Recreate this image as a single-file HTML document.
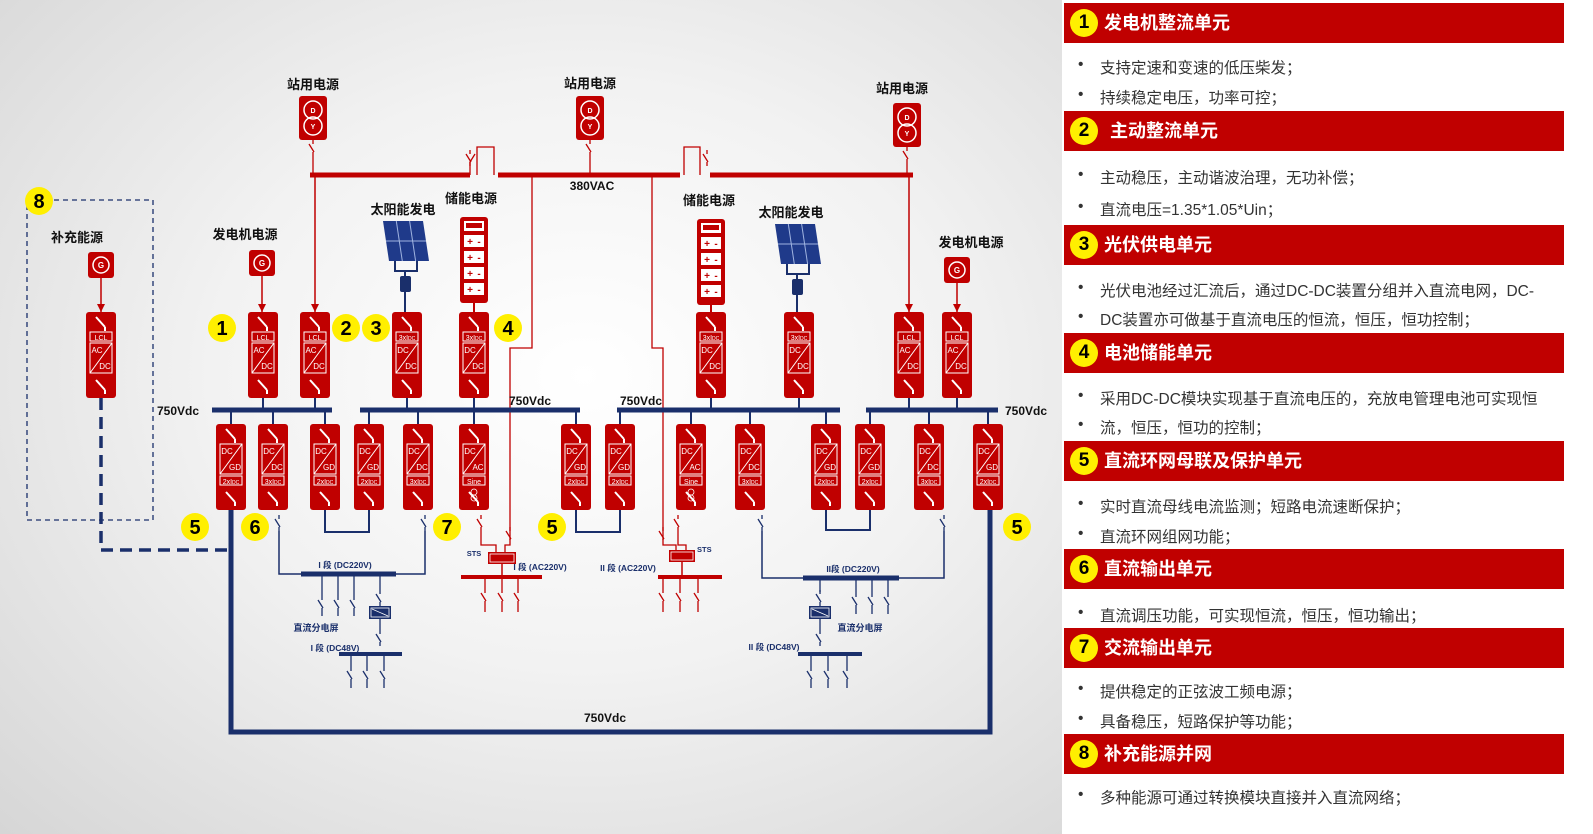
<!DOCTYPE html>
<html><head><meta charset="utf-8">
<style>
html,body{margin:0;padding:0;}
body{width:1593px;height:834px;position:relative;overflow:hidden;font-family:"Liberation Sans","Noto Sans CJK SC",sans-serif;background:#fff;}
#bg{position:absolute;left:0;top:0;width:1062px;height:834px;background:radial-gradient(ellipse at 55% 45%,#ffffff 0%,#f2f2f2 45%,#d6d6d6 100%);}
svg{position:absolute;left:0;top:0;}
.hd{position:absolute;left:1064px;width:500px;height:40px;background:#c00000;color:#fff;font-weight:bold;font-size:18px;line-height:40px;}
.hd .n{position:absolute;left:6px;top:6px;width:28px;height:28px;border-radius:50%;background:#ffef00;color:#000;text-align:center;line-height:28px;font-size:19px;}
.hd span.t{position:absolute;left:40px;}
.b{position:absolute;left:1078px;font-size:15.5px;color:#333;white-space:nowrap;}
.b:before{content:"•";position:absolute;left:0;}
.b span{position:absolute;left:22px;}
</style></head><body>
<div id="bg"></div>
<svg id="s" width="1062" height="834" font-family="Liberation Sans, Noto Sans CJK SC, sans-serif"></svg>

<div class="hd" style="top:3px"><div class="n">1</div><span class="t">发电机整流单元</span></div>
<div class="b" style="top:56px"><span>支持定速和变速的低压柴发；</span></div>
<div class="b" style="top:86px"><span>持续稳定电压，功率可控；</span></div>
<div class="hd" style="top:111px"><div class="n">2</div><span class="t" style="left:46px">主动整流单元</span></div>
<div class="b" style="top:166px"><span>主动稳压，主动谐波治理，无功补偿；</span></div>
<div class="b" style="top:198px"><span>直流电压=1.35*1.05*Uin；</span></div>
<div class="hd" style="top:225px"><div class="n">3</div><span class="t">光伏供电单元</span></div>
<div class="b" style="top:279px"><span>光伏电池经过汇流后，通过DC-DC装置分组并入直流电网，DC-</span></div>
<div class="b" style="top:308px"><span>DC装置亦可做基于直流电压的恒流，恒压，恒功控制；</span></div>
<div class="hd" style="top:333px"><div class="n">4</div><span class="t">电池储能单元</span></div>
<div class="b" style="top:387px"><span>采用DC-DC模块实现基于直流电压的，充放电管理电池可实现恒</span></div>
<div class="b" style="top:416px"><span>流，恒压，恒功的控制；</span></div>
<div class="hd" style="top:441px"><div class="n">5</div><span class="t">直流环网母联及保护单元</span></div>
<div class="b" style="top:495px"><span>实时直流母线电流监测；短路电流速断保护；</span></div>
<div class="b" style="top:525px"><span>直流环网组网功能；</span></div>
<div class="hd" style="top:549px"><div class="n">6</div><span class="t">直流输出单元</span></div>
<div class="b" style="top:604px"><span>直流调压功能，可实现恒流，恒压，恒功输出；</span></div>
<div class="hd" style="top:628px"><div class="n">7</div><span class="t">交流输出单元</span></div>
<div class="b" style="top:680px"><span>提供稳定的正弦波工频电源；</span></div>
<div class="b" style="top:710px"><span>具备稳压，短路保护等功能；</span></div>
<div class="hd" style="top:734px"><div class="n">8</div><span class="t">补充能源并网</span></div>
<div class="b" style="top:786px"><span>多种能源可通过转换模块直接并入直流网络；</span></div>

<script>
var R="#c00000",N="#1a2f6b",h="";
function L(x1,y1,x2,y2,c,w,d){h+='<line x1="'+x1+'" y1="'+y1+'" x2="'+x2+'" y2="'+y2+'" stroke="'+c+'" stroke-width="'+(w||1.5)+'"'+(d?' stroke-dasharray="'+d+'"':'')+'/>';}
function P(p,c,w,d){h+='<polyline points="'+p+'" fill="none" stroke="'+c+'" stroke-width="'+(w||1.5)+'"'+(d?' stroke-dasharray="'+d+'"':'')+'/>';}
function T(x,y,s,sz,c,a,b){h+='<text x="'+x+'" y="'+y+'" font-size="'+(sz||13)+'" fill="'+(c||"#111")+'" text-anchor="'+(a||"middle")+'" font-weight="'+(b===0?"normal":"bold")+'">'+s+'</text>';}
function SW(x,y,c){L(x,y,x,y+4,c,1.3);L(x-4,y+4,x+1,y+12,c,1.3);L(x,y+12,x,y+16,c,1.3);}
function WS(x,y){L(x-5,y,x+4,y+10,"#fff",2);L(x+4,y+10,x+4,y+14,"#fff",2);}
function mod(cx,y,type){
 h+='<rect x="'+(cx-15)+'" y="'+y+'" width="30" height="86" rx="3" fill="'+R+'"/>';
 WS(cx,y+5);WS(cx,y+68);
 var bx=cx-11,w=22;
 if(type=="lcl"){
  h+='<rect x="'+bx+'" y="'+(y+20)+'" width="'+w+'" height="9" fill="none" stroke="#fff"/>';T(cx,y+28,"LCL",7,"#fff","middle",0);
  h+='<rect x="'+bx+'" y="'+(y+31)+'" width="'+w+'" height="30" fill="none" stroke="#fff"/>';L(bx,y+61,bx+w,y+31,"#fff",1);
  T(cx-4,y+41,"AC",8,"#fff","middle",0);T(cx+4,y+57,"DC",8,"#fff","middle",0);
 } else if(type=="dd3"){
  h+='<rect x="'+bx+'" y="'+(y+20)+'" width="'+w+'" height="9" fill="none" stroke="#fff"/>';T(cx,y+28,"3xI<tspan font-size=\'5\'>DC</tspan>",7,"#fff","middle",0);
  h+='<rect x="'+bx+'" y="'+(y+31)+'" width="'+w+'" height="30" fill="none" stroke="#fff"/>';L(bx,y+61,bx+w,y+31,"#fff",1);
  T(cx-4,y+41,"DC",8,"#fff","middle",0);T(cx+4,y+57,"DC",8,"#fff","middle",0);
 } else {
  var a="DC",b=type=="gd"?"GD":(type=="ac"?"AC":"DC"),lab=type=="gd"?"2xI<tspan font-size='5'>DC</tspan>":(type=="ac"?"Sine":"3xI<tspan font-size='5'>DC</tspan>");
  h+='<rect x="'+bx+'" y="'+(y+20)+'" width="'+w+'" height="30" fill="none" stroke="#fff"/>';L(bx,y+50,bx+w,y+20,"#fff",1);
  T(cx-4,y+30,a,8,"#fff","middle",0);T(cx+4,y+46,b,8,"#fff","middle",0);
  h+='<rect x="'+bx+'" y="'+(y+52)+'" width="'+w+'" height="9" fill="none" stroke="#fff"/>';T(cx,y+60,lab,7,"#fff","middle",0);
  if(type=="ac"){h+='<circle cx="'+cx+'" cy="'+(y+68)+'" r="3" fill="none" stroke="#fff" stroke-width=".8"/><circle cx="'+cx+'" cy="'+(y+74)+'" r="3" fill="none" stroke="#fff" stroke-width=".8"/>';}
 }
}
function circ(x,y,n){h+='<circle cx="'+x+'" cy="'+y+'" r="14" fill="#ffef00"/>';T(x,y+7,n,20,"#000");}
function DY(x,y){h+='<rect x="'+(x-14)+'" y="'+(y-22)+'" width="28" height="44" rx="3" fill="'+R+'"/><circle cx="'+x+'" cy="'+(y-8)+'" r="9" fill="none" stroke="#fff" stroke-width="1.5"/><circle cx="'+x+'" cy="'+(y+8)+'" r="9" fill="none" stroke="#fff" stroke-width="1.5"/>';T(x,y-5,"D",7,"#fff");T(x,y+11,"Y",7,"#fff");}
function G(x,y){h+='<rect x="'+(x-13)+'" y="'+(y-13)+'" width="26" height="26" rx="3" fill="'+R+'"/><circle cx="'+x+'" cy="'+y+'" r="8" fill="none" stroke="#fff" stroke-width="1.5"/>';T(x,y+3,"G",8,"#fff");}
function solar(x,y){h+='<polygon points="'+(x-22)+','+(y-22)+' '+(x+18)+','+(y-22)+' '+(x+24)+','+(y+18)+' '+(x-16)+','+(y+18)+'" fill="#1f3a8a"/>';
 for(var i=1;i<3;i++){L(x-22+i*13.3,y-22,x-16+i*13.3,y+18,"#9fb3e0",1);}
 L(x-19,y-2,x+21,y-2,"#9fb3e0",1);
 P((x-10)+','+(y+18)+' '+(x-10)+','+(y+28)+' '+(x+12)+','+(y+28)+' '+(x+12)+','+(y+18),N,2);
 h+='<rect x="'+(x-5)+'" y="'+(y+33)+'" width="11" height="16" rx="2" fill="'+N+'"/>';L(x,y+28,x,y+33,N,2);}
function batt(x,y){h+='<rect x="'+(x-14)+'" y="'+(y-40)+'" width="28" height="86" rx="3" fill="'+R+'"/><rect x="'+(x-10)+'" y="'+(y-36)+'" width="20" height="10" fill="#fff"/><rect x="'+(x-8)+'" y="'+(y-34)+'" width="16" height="5" fill="'+R+'"/>';
 for(var i=0;i<4;i++){var yy=y-22+i*16;h+='<rect x="'+(x-10)+'" y="'+yy+'" width="20" height="12" fill="#fff"/>';T(x-4,yy+10,"+",10,R);T(x+5,yy+10,"-",10,R);}}

L(310,175,470,175,R,5);L(498,175,680,175,R,5);L(710,175,913,175,R,5);
P("470,175 470,162 475,154 ",R,1.3);P("477,175 477,147 494,147 494,175",R,1.3);
P("684,175 684,147 700,147 700,175",R,1.3);SW(707,150,R);SW(470,150,R);
T(592,190,"380VAC",12);
DY(313,118);DY(590,118);DY(907,125);
SW(313,140,R);L(313,156,313,175,R,1.3);SW(590,140,R);L(590,156,590,175,R,1.3);SW(907,147,R);L(907,163,907,175,R,1.3);
T(313,89,"站用电源",13);T(590,88,"站用电源",13);T(902,93,"站用电源",13);
L(315,175,315,312,R,1.5);h+='<polygon points="311,304 319,304 315,312" fill="'+R+'"/>';
L(909,175,909,312,R,1.5);h+='<polygon points="905,304 913,304 909,312" fill="'+R+'"/>';
P("532,175 532,348 510,348 510,540",R,1.3);P("652,175 652,348 663,348 663,540",R,1.3);
G(101,265);G(262,263);G(957,270);
L(101,278,101,312,R,1.5);h+='<polygon points="97,304 105,304 101,312" fill="'+R+'"/>';
L(262,276,262,312,R,1.5);h+='<polygon points="258,304 266,304 262,312" fill="'+R+'"/>';
L(957,283,957,312,R,1.5);h+='<polygon points="953,304 961,304 957,312" fill="'+R+'"/>';
T(77,242,"补充能源",13);T(245,239,"发电机电源",13);T(971,247,"发电机电源",13);
solar(405,243);solar(797,246);batt(474,257);batt(711,259);
L(405,292,405,312,N,2);L(797,295,797,312,N,2);L(474,303,474,312,R,2);L(711,305,711,312,R,2);
T(403,214,"太阳能发电",13);T(471,203,"储能电源",13);T(709,205,"储能电源",13);T(791,217,"太阳能发电",13);
h+='<rect x="27" y="200" width="126" height="320" fill="none" stroke="'+N+'" stroke-width="1.3" stroke-dasharray="5,4"/>';
P("101,398 101,550 231,550",N,3.5,"12,7");
L(212,410,332,410,N,5);L(360,410,580,410,N,5);L(617,410,840,410,N,5);L(866,410,998,410,N,5);
T(178,415,"750Vdc",12);T(530,405,"750Vdc",12);T(641,405,"750Vdc",12);T(1026,415,"750Vdc",12);
var tops=[[101,"lcl"],[263,"lcl"],[315,"lcl"],[407,"dd3"],[474,"dd3"],[711,"dd3"],[799,"dd3"],[909,"lcl"],[957,"lcl"]];
tops.forEach(function(t){if(t[0]!=101)L(t[0],398,t[0],410,N,2);mod(t[0],312,t[1]);});
var bots=[[231,"gd"],[273,"dd"],[325,"gd"],[369,"gd"],[418,"dd"],[474,"ac"],[576,"gd"],[620,"gd"],[691,"ac"],[750,"dd"],[826,"gd"],[870,"gd"],[929,"dd"],[988,"gd"]];
bots.forEach(function(t){L(t[0],410,t[0],424,N,2);mod(t[0],424,t[1]);});
P("325,510 325,532 369,532 369,510",N,2);P("576,510 576,532 620,532 620,510",N,2);P("826,510 826,530 870,530 870,510",N,2);
P("231,510 231,732 990,732 990,510",N,5);T(605,722,"750Vdc",12);
SW(279,515,N);P("279,531 279,574 301,574",N,1.5);L(301,574,396,574,N,5);SW(425,515,N);P("425,531 425,574 396,574",N,1.5);
T(345,568,"I 段 (DC220V)",8.5,N);
[322,338,354].forEach(function(x){L(x,576,x,596,N,1.3);SW(x,596,N);L(x,612,x,616,N,1.3);});
L(380,576,380,590,N,1.3);SW(380,590,N);h+='<rect x="369" y="606" width="22" height="13" fill="'+N+'"/><rect x="371" y="608" width="18" height="9" fill="none" stroke="#fff" stroke-width=".8"/>';L(372,609,388,616,"#fff",.8);
L(380,619,380,630,N,1.3);SW(380,630,N);L(339,654,402,654,N,4);
T(316,631,"直流分电屏",9,N);T(335,651,"I 段 (DC48V)",8.5,N);
[351,367,384].forEach(function(x){L(x,656,x,667,N,1.3);SW(x,667,N);L(x,683,x,688,N,1.3);});
SW(481,515,R);P("481,531 481,545 496,545 496,553",R,1.3);SW(510,527,R);P("510,543 510,545 505,545 505,553",R,1.3);
h+='<rect x="488" y="552" width="28" height="12" fill="'+R+'"/><rect x="490" y="554" width="24" height="8" fill="none" stroke="#fff" stroke-width=".8"/>';
T(474,556,"STS",7.5,N);L(502,564,502,577,R,1.5);L(461,577,542,577,R,4);T(540,570,"I 段 (AC220V)",8.5,N);
[485,502,518].forEach(function(x){L(x,579,x,589,R,1.3);SW(x,589,R);L(x,605,x,612,R,1.3);});
SW(678,515,R);P("678,531 678,545 686,545 686,551",R,1.3);SW(663,527,R);P("663,543 663,545 676,545 676,551",R,1.3);
h+='<rect x="669" y="550" width="26" height="12" fill="'+R+'"/><rect x="671" y="552" width="22" height="8" fill="none" stroke="#fff" stroke-width=".8"/>';
T(697,552,"STS",7.5,N,"start");L(682,562,682,577,R,1.5);L(658,577,722,577,R,4);T(628,571,"II 段 (AC220V)",8.5,N);
[663,680,698].forEach(function(x){L(x,579,x,589,R,1.3);SW(x,589,R);L(x,605,x,612,R,1.3);});
SW(762,515,N);P("762,531 762,578 803,578",N,1.5);L(803,578,899,578,N,5);SW(944,515,N);P("944,531 944,578 899,578",N,1.5);
T(853,572,"II段 (DC220V)",8.5,N);
[856,872,888].forEach(function(x){L(x,580,x,593,N,1.3);SW(x,593,N);L(x,609,x,614,N,1.3);});
L(820,580,820,592,N,1.3);SW(820,590,N);h+='<rect x="809" y="606" width="22" height="13" fill="'+N+'"/><rect x="811" y="608" width="18" height="9" fill="none" stroke="#fff" stroke-width=".8"/>';L(812,609,828,616,"#fff",.8);
L(820,619,820,630,N,1.3);SW(820,630,N);L(798,654,862,654,N,4);
T(860,631,"直流分电屏",9,N);T(774,650,"II 段 (DC48V)",8.5,N);
[811,828,847].forEach(function(x){L(x,656,x,667,N,1.3);SW(x,667,N);L(x,683,x,688,N,1.3);});
circ(39,201,"8");circ(222,328,"1");circ(346,328,"2");circ(376,328,"3");circ(508,328,"4");
circ(195,527,"5");circ(255,527,"6");circ(447,527,"7");circ(552,527,"5");circ(1017,527,"5");
document.getElementById("s").innerHTML=h;
</script>
</body></html>
